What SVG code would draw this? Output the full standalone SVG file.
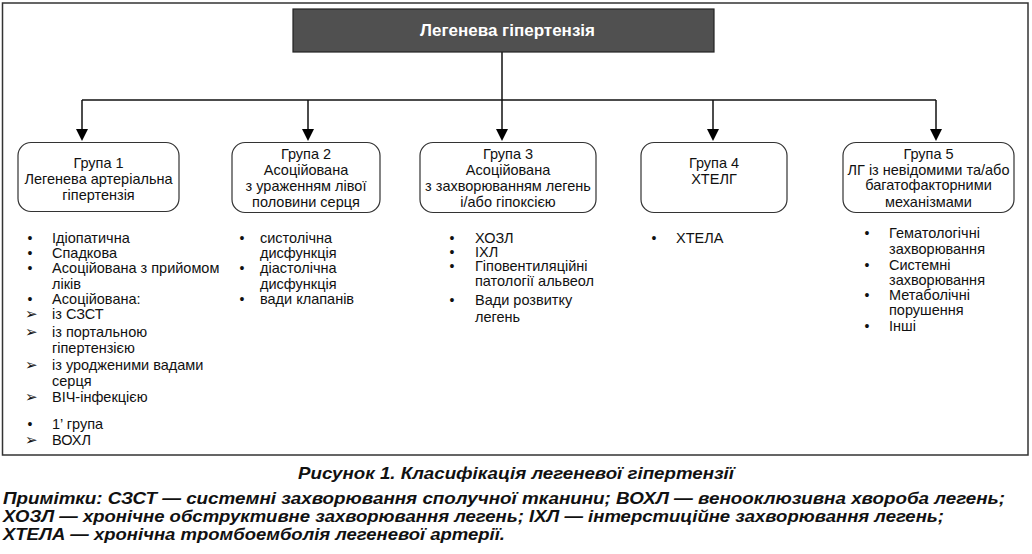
<svg xmlns="http://www.w3.org/2000/svg" width="1032" height="554" viewBox="0 0 1032 554">
<style>
text{font-family:"Liberation Sans",Arial,"DejaVu Sans",sans-serif;fill:#111}
.box{fill:#fff;stroke:#333;stroke-width:1.2}
.t{font-size:14.5px;text-anchor:middle}
.l{font-size:14.5px}
.b{font-size:14px}
.a{font-size:15px;font-family:"DejaVu Sans",sans-serif}
.cap{font-size:17px;font-weight:bold;font-style:italic}
.con{stroke:#111;stroke-width:1.5;fill:none}
.ah{fill:#000}
</style>
<rect x="2.5" y="3" width="1025.5" height="452" fill="#fff" stroke="#333" stroke-width="1.5"/>

<g id="connectors">
<path class="con" d="M502,52 V100"/>
<path class="con" d="M82,100 H936"/>
<path d="M82,100 V129" class="con"/><path class="ah" d="M76,129 L88,129 L82,141 Z"/>
<path d="M308,100 V129" class="con"/><path class="ah" d="M302,129 L314,129 L308,141 Z"/>
<path d="M502,100 V129" class="con"/><path class="ah" d="M496,129 L508,129 L502,141 Z"/>
<path d="M713,100 V129" class="con"/><path class="ah" d="M707,129 L719,129 L713,141 Z"/>
<path d="M936,100 V129" class="con"/><path class="ah" d="M930,129 L942,129 L936,141 Z"/>
</g>

<g id="root">
<rect x="293" y="9" width="421" height="43" fill="#505050" stroke="#222" stroke-width="1.2"/>
<text x="507.5" y="36" text-anchor="middle" font-size="16.5" font-weight="bold" style="fill:#fff" textLength="175" lengthAdjust="spacingAndGlyphs">Легенева гіпертензія</text>
</g>

<g id="group1">
<rect class="box" x="18" y="142.5" width="161" height="69" rx="13"/>
<text class="t" x="98.5" y="168">Група 1</text>
<text class="t" x="98.5" y="184">Легенева артеріальна</text>
<text class="t" x="98.5" y="200">гіпертензія</text>
</g>
<g id="group1-list">
<text class="b" x="27.5" y="243">•</text><text class="l" x="52" y="243">Ідіопатична</text>
<text class="b" x="27.5" y="258">•</text><text class="l" x="52" y="258">Спадкова</text>
<text class="b" x="27.5" y="273">•</text><text class="l" x="52" y="273">Асоційована з прийомом</text>
<text class="l" x="52" y="289">ліків</text>
<text class="b" x="27.5" y="304">•</text><text class="l" x="52" y="304">Асоційована:</text>
<text class="a" x="25" y="319">➢</text><text class="l" x="52" y="319">із СЗСТ</text>
<text class="a" x="25" y="337">➢</text><text class="l" x="52" y="337">із портальною</text>
<text class="l" x="52" y="353">гіпертензією</text>
<text class="a" x="25" y="370">➢</text><text class="l" x="52" y="370">із уродженими вадами</text>
<text class="l" x="52" y="386">серця</text>
<text class="a" x="25" y="402">➢</text><text class="l" x="52" y="402">ВІЧ-інфекцією</text>
<text class="b" x="27.5" y="429">•</text><text class="l" x="52" y="429">1’ група</text>
<text class="a" x="25" y="445">➢</text><text class="l" x="52" y="445">ВОХЛ</text>
</g>

<g id="group2">
<rect class="box" x="232" y="142.5" width="148" height="70" rx="13"/>
<text class="t" x="306" y="159">Група 2</text>
<text class="t" x="306" y="175">Асоційована</text>
<text class="t" x="306" y="191">з ураженням лівої</text>
<text class="t" x="306" y="207">половини серця</text>
</g>
<g id="group2-list">
<text class="b" x="239.5" y="243">•</text><text class="l" x="260" y="243">систолічна</text>
<text class="l" x="260" y="258">дисфункція</text>
<text class="b" x="239.5" y="273">•</text><text class="l" x="260" y="273">діастолічна</text>
<text class="l" x="260" y="289">дисфункція</text>
<text class="b" x="239.5" y="304">•</text><text class="l" x="260" y="304">вади клапанів</text>
</g>

<g id="group3">
<rect class="box" x="420" y="142.5" width="176" height="70" rx="13"/>
<text class="t" x="508" y="159">Група 3</text>
<text class="t" x="508" y="175">Асоційована</text>
<text class="t" x="508" y="191">з захворюванням легень</text>
<text class="t" x="508" y="207">і/або гіпоксією</text>
</g>
<g id="group3-list">
<text class="b" x="449.5" y="243">•</text><text class="l" x="475" y="243">ХОЗЛ</text>
<text class="b" x="449.5" y="257">•</text><text class="l" x="475" y="257">ІХЛ</text>
<text class="b" x="449.5" y="271">•</text><text class="l" x="475" y="271">Гіповентиляційні</text>
<text class="l" x="475" y="286">патології альвеол</text>
<text class="b" x="449.5" y="305">•</text><text class="l" x="475" y="305">Вади розвитку</text>
<text class="l" x="475" y="322">легень</text>
</g>

<g id="group4">
<rect class="box" x="641" y="142.5" width="146" height="70" rx="13"/>
<text class="t" x="714" y="168">Група 4</text>
<text class="t" x="714" y="184">ХТЕЛГ</text>
</g>
<g id="group4-list">
<text class="b" x="651.5" y="243">•</text><text class="l" x="676" y="243">ХТЕЛА</text>
</g>

<g id="group5">
<rect class="box" x="843" y="142.5" width="171" height="70" rx="13"/>
<text class="t" x="928.5" y="159">Група 5</text>
<text class="t" x="928.5" y="175">ЛГ із невідомими та/або</text>
<text class="t" x="928.5" y="190">багатофакторними</text>
<text class="t" x="928.5" y="207">механізмами</text>
</g>
<g id="group5-list">
<text class="b" x="864.5" y="238">•</text><text class="l" x="889" y="238">Гематологічні</text>
<text class="l" x="889" y="254">захворювання</text>
<text class="b" x="864.5" y="270">•</text><text class="l" x="889" y="270">Системні</text>
<text class="l" x="889" y="285">захворювання</text>
<text class="b" x="864.5" y="300">•</text><text class="l" x="889" y="300">Метаболічні</text>
<text class="l" x="889" y="315">порушення</text>
<text class="b" x="864.5" y="331">•</text><text class="l" x="889" y="331">Інші</text>
</g>

<g id="caption">
<text class="cap" x="298" y="479" textLength="436" lengthAdjust="spacingAndGlyphs">Рисунок 1. Класифікація легеневої гіпертензії</text>
<text class="cap" x="3" y="504" textLength="1002" lengthAdjust="spacingAndGlyphs">Примітки: СЗСТ — системні захворювання сполучної тканини; ВОХЛ — венооклюзивна хвороба легень;</text>
<text class="cap" x="3" y="522" textLength="941" lengthAdjust="spacingAndGlyphs">ХОЗЛ — хронічне обструктивне захворювання легень; ІХЛ — інтерстиційне захворювання легень;</text>
<text class="cap" x="3" y="540" textLength="502" lengthAdjust="spacingAndGlyphs">ХТЕЛА — хронічна тромбоемболія легеневої артерії.</text>
</g>
</svg>
